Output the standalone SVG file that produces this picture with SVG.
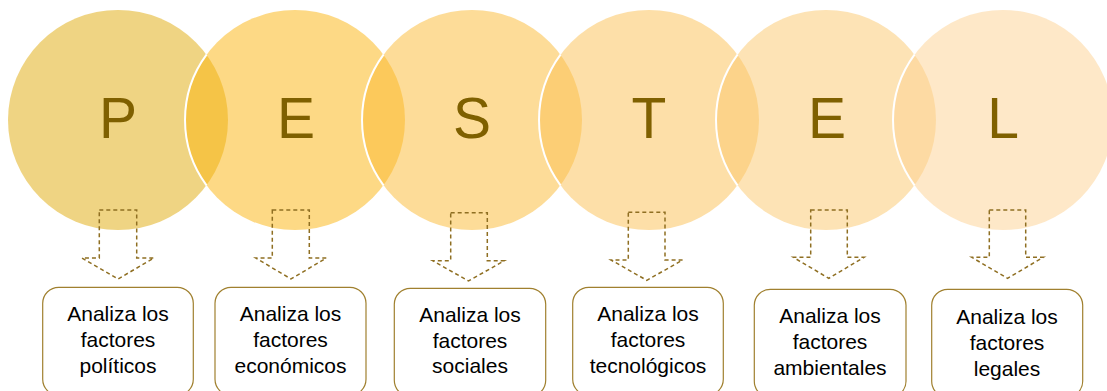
<svg xmlns="http://www.w3.org/2000/svg" width="1107" height="391" viewBox="0 0 1107 391">
<style>
.c{fill-opacity:0.5;stroke:none}
.edge{fill:none;stroke:#ffffff;stroke-width:2}
.letter{font-family:"Liberation Sans",Arial,sans-serif;font-size:57px;fill:#7F6000;text-anchor:middle}
.arrow{fill:none;stroke:#8F6F22;stroke-width:1.5;stroke-dasharray:4 3}
.box{fill:#ffffff;stroke:#A0802F;stroke-width:1.2}
.t{font-family:"Liberation Sans",Arial,sans-serif;font-size:21px;fill:#000000;text-anchor:middle}
</style>
<rect width="1107" height="391" fill="#ffffff"/>
<g id="circles">
<g id="node-P"><circle class="c" cx="118" cy="120" r="110" fill="#DFA907"/><text class="letter" x="118" y="138">P</text></g>
<g id="node-E1"><circle class="c" cx="295" cy="120" r="110" fill="#FBB30B"/><path class="edge" d="M206.5,54.7 A110,110 0 0 0 206.5,185.3"/><text class="letter" x="296" y="138">E</text></g>
<g id="node-S"><circle class="c" cx="472" cy="120" r="110" fill="#FBB931"/><path class="edge" d="M383.5,54.7 A110,110 0 0 0 383.5,185.3"/><text class="letter" x="472" y="138">S</text></g>
<g id="node-T"><circle class="c" cx="649" cy="120" r="110" fill="#FBBF51"/><path class="edge" d="M560.5,54.7 A110,110 0 0 0 560.5,185.3"/><text class="letter" x="649" y="138">T</text></g>
<g id="node-E2"><circle class="c" cx="826" cy="120" r="110" fill="#FBC76B"/><path class="edge" d="M737.5,54.7 A110,110 0 0 0 737.5,185.3"/><text class="letter" x="827" y="138">E</text></g>
<g id="node-L"><circle class="c" cx="1003" cy="120" r="110" fill="#FDD191"/><path class="edge" d="M914.5,54.7 A110,110 0 0 0 914.5,185.3"/><text class="letter" x="1003" y="138">L</text></g>
</g>
<g id="connectors">
<path class="arrow" d="M99.3,210 H136.7 V258 H154 L118,279 L82,258 H99.3 Z"/>
<path class="arrow" d="M272.3,210 H309.3 V258 H326.3 L291,279 L255.7,258 H272.3 Z"/>
<path class="arrow" d="M450.7,212.7 H487.3 V260.7 H504.3 L468.5,281 L432.7,260.7 H450.7 Z"/>
<path class="arrow" d="M628.3,212.3 H665 V260 H682.7 L646.8,280.3 L611,260 H628.3 Z"/>
<path class="arrow" d="M810.7,210 H847.3 V257.3 H864 L828.8,278.3 L793.3,257.3 H810.7 Z"/>
<path class="arrow" d="M989.3,210 H1025.7 V257.3 H1043.3 L1007.5,278.3 L971.7,257.3 H989.3 Z"/>
</g>
<g id="box-politicos"><rect class="box" x="42.7" y="287.3" width="150.6" height="108" rx="16"/>
<text class="t" x="118" y="320.7">Analiza los</text><text class="t" x="118" y="346.7">factores</text><text class="t" x="118" y="372.7">políticos</text></g>
<g id="box-economicos"><rect class="box" x="215" y="287.3" width="151" height="108" rx="16"/>
<text class="t" x="290.5" y="320.7">Analiza los</text><text class="t" x="290.5" y="346.7">factores</text><text class="t" x="290.5" y="372.7">económicos</text></g>
<g id="box-sociales"><rect class="box" x="394.3" y="288.3" width="151.4" height="108" rx="16"/>
<text class="t" x="470" y="321.7">Analiza los</text><text class="t" x="470" y="347.7">factores</text><text class="t" x="470" y="373.3">sociales</text></g>
<g id="box-tecnologicos"><rect class="box" x="572.7" y="287.3" width="150.6" height="108" rx="16"/>
<text class="t" x="648" y="320.7">Analiza los</text><text class="t" x="648" y="346.7">factores</text><text class="t" x="648" y="372.7">tecnológicos</text></g>
<g id="box-ambientales"><rect class="box" x="754.3" y="289.3" width="151.7" height="108" rx="16"/>
<text class="t" x="830" y="323.3">Analiza los</text><text class="t" x="830" y="349">factores</text><text class="t" x="830" y="375">ambientales</text></g>
<g id="box-legales"><rect class="box" x="931.7" y="289.3" width="151" height="108" rx="16"/>
<text class="t" x="1007" y="324">Analiza los</text><text class="t" x="1007" y="350">factores</text><text class="t" x="1007" y="375.7">legales</text></g>
</svg>
